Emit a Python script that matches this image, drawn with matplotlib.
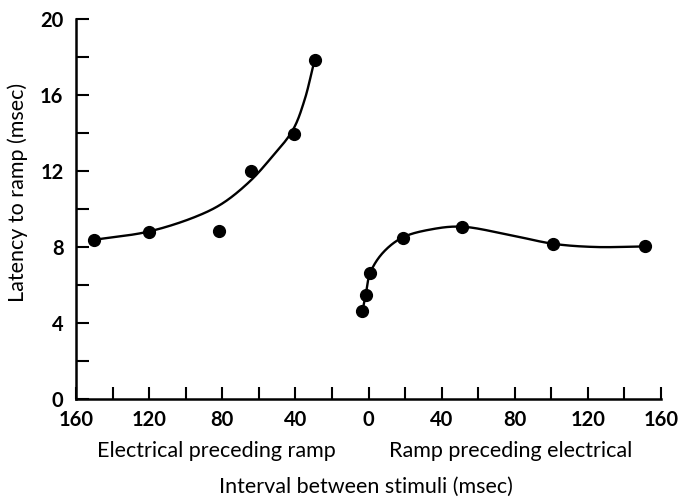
import numpy as np
import matplotlib
matplotlib.use("Agg")
import matplotlib.pyplot as plt

# Data: interval (negative = electrical preceding ramp), latency (msec)
left_x = [-150, -120, -82, -64.5, -40.5, -29.5]
left_y = [8.38, 8.81, 8.85, 12.0, 13.93, 17.84]
right_x = [-3.3, -1.5, 0.9, 18.6, 51, 101, 151]
right_y = [4.62, 5.5, 6.63, 8.5, 9.07, 8.17, 8.03]

# Hand-drawn fitted curves
left_curve_x = [-150, -120.4, -94.4, -79.8, -65.2, -54.3, -41.5, -35.1, -29.5]
left_curve_y = [8.38, 8.81, 9.6, 10.3, 11.43, 12.57, 14.14, 15.7, 17.84]
right_curve_x = [-3.3, -1.5, 0.9, 7.7, 18.6, 35, 51, 76.9, 101, 124, 151]
right_curve_y = [4.62, 5.5, 6.63, 7.68, 8.5, 8.94, 9.07, 8.64, 8.17, 8.0, 8.03]

xticks = [-160, -120, -80, -40, 0, 40, 80, 120, 160]
xticklabels = ["160", "120", "80", "40", "0", "40", "80", "120", "160"]
yticks = [0, 4, 8, 12, 16, 20]

# axes placement in pixels
L, R, B, T = 76, 661, 399, 19
sx = (R - L) / 320.0
sy = (B - T) / 20.0


def smooth(xs, ys, n=30, alpha=0.5):
    # centripetal Catmull-Rom in (roughly) pixel space
    P = np.column_stack([np.asarray(xs, float) * sx, np.asarray(ys, float) * sy])
    P = np.vstack([P[0] * 2 - P[1], P, P[-1] * 2 - P[-2]])
    out = []
    for i in range(1, len(P) - 2):
        p0, p1, p2, p3 = P[i - 1], P[i], P[i + 1], P[i + 2]
        t0 = 0.0
        t1 = t0 + np.linalg.norm(p1 - p0) ** alpha
        t2 = t1 + np.linalg.norm(p2 - p1) ** alpha
        t3 = t2 + np.linalg.norm(p3 - p2) ** alpha
        t = np.linspace(t1, t2, n)[:, None]
        a1 = (t1 - t) / (t1 - t0) * p0 + (t - t0) / (t1 - t0) * p1
        a2 = (t2 - t) / (t2 - t1) * p1 + (t - t1) / (t2 - t1) * p2
        a3 = (t3 - t) / (t3 - t2) * p2 + (t - t2) / (t3 - t2) * p3
        b1 = (t2 - t) / (t2 - t0) * a1 + (t - t0) / (t2 - t0) * a2
        b2 = (t3 - t) / (t3 - t1) * a2 + (t - t1) / (t3 - t1) * a3
        c = (t2 - t) / (t2 - t1) * b1 + (t - t1) / (t2 - t1) * b2
        out.append(c)
    out = np.vstack(out)
    return out[:, 0] / sx, out[:, 1] / sy


plt.rcParams['font.family'] = ['Lato', 'DejaVu Sans']

fig = plt.figure(figsize=(6.78, 4.97), dpi=100)
ax = fig.add_axes([L / 678, 1 - B / 497, (R - L) / 678, (B - T) / 497])

cx, cy = smooth(left_curve_x, left_curve_y)
ax.plot(cx, cy, color="black", lw=1.7, solid_capstyle='round')
cx, cy = smooth(right_curve_x, right_curve_y)
ax.plot(cx, cy, color="black", lw=1.7, solid_capstyle='round')
ax.plot(left_x, left_y, "o", color="black", ms=8.5)
ax.plot(right_x, right_y, "o", color="black", ms=8.5)

ax.set_xlim(-160, 160)
ax.set_ylim(0, 20)
ax.spines['top'].set_visible(False)
ax.spines['right'].set_visible(False)
for s in ['left', 'bottom']:
    ax.spines[s].set_linewidth(1.8)

ax.set_xticks(xticks)
ax.set_xticklabels(xticklabels, fontsize=14.5, fontweight='bold')
ax.set_xticks(np.arange(-140, 161, 40), minor=True)
ax.set_yticks(yticks)
ax.set_yticklabels([str(v) for v in yticks], fontsize=14.5, fontweight='bold')
ax.set_yticks(np.arange(2, 21, 4), minor=True)
ax.tick_params(axis='both', which='both', direction='in', length=9, width=1.5)
ax.tick_params(axis='x', which='both', pad=8)
ax.tick_params(axis='y', which='both', pad=9)

fig.text(18 / 678, 1 - 192 / 497, "Latency to ramp (msec)", rotation=90,
         ha='center', va='center', fontsize=15.5)
fig.text(216 / 678, 1 - 451 / 497, "Electrical preceding ramp", ha='center', va='center', fontsize=15.5)
fig.text(511 / 678, 1 - 451 / 497, "Ramp preceding electrical", ha='center', va='center', fontsize=15.5)
fig.text(366 / 678, 1 - 487 / 497, "Interval between stimuli (msec)", ha='center', va='center', fontsize=15.5)

fig.savefig("out.png", dpi=100)
